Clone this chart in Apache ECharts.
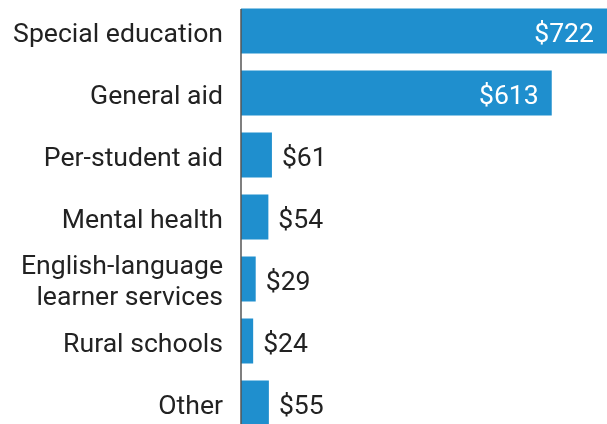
<!DOCTYPE html>
<html>
<head>
<meta charset="utf-8">
<script src="https://cdn.jsdelivr.net/npm/echarts@6/dist/echarts.min.js"></script>
<style>
html,body{margin:0;padding:0;background:#fff;}
#c{width:607px;height:424px;}
</style>
</head>
<body>
<div id="c"></div>
<script>
const categories = ["Special education", "General aid", "Per-student aid", "Mental health", "English-language\nlearner services", "Rural schools", "Other"];
const values = [722, 613, 61, 54, 29, 24, 55];
const insideThreshold = 300;

const chart = echarts.init(document.getElementById('c'), null, {renderer: 'canvas'});
const data = values.map(v => {
  const inside = v > insideThreshold;
  return {
    value: v,
    label: inside
      ? {position: 'insideRight', color: '#ffffff', distance: 13}
      : {position: 'right', color: '#222222', distance: 10}
  };
});
chart.setOption({
  animation: false,
  grid: [
    {left: 241, right: 0, top: 0, height: 434, outerBoundsMode: 'none', containLabel: false},
    {left: 241, right: 0, top: 4, height: 434, outerBoundsMode: 'none', containLabel: false}
  ],
  xAxis: [
    {gridIndex: 0, type: 'value', min: 0, max: 722, show: false},
    {gridIndex: 1, type: 'value', min: 0, max: 722, show: false}
  ],
  yAxis: [
    {
      gridIndex: 0,
      type: 'category',
      data: categories,
      inverse: true,
      axisLine: {show: false},
      axisTick: {show: false},
      axisLabel: {show: false}
    },
    {
      gridIndex: 1,
      type: 'category',
      data: categories,
      inverse: true,
      axisLine: {show: false},
      axisTick: {show: false},
      splitLine: {show: false},
      axisLabel: {
        margin: 18,
        fontFamily: 'Roboto',
        fontSize: 26.6,
        color: '#222222',
        lineHeight: 31,
        align: 'right'
      }
    }
  ],
  series: [{
    type: 'bar',
    xAxisIndex: 0,
    yAxisIndex: 0,
    data: data,
    barWidth: 45,
    itemStyle: {color: '#1f8fce'},
    label: {
      show: true,
      fontFamily: 'Roboto',
      fontSize: 26.6,
      offset: [0, 4],
      formatter: p => '$' + p.value
    },
    markLine: {
      silent: true,
      symbol: 'none',
      label: {show: false},
      lineStyle: {color: '#555555', width: 1.5, type: 'solid'},
      data: [[{xAxis: 0, y: 9}, {xAxis: 0, y: '100%'}]]
    }
  }]
});
</script>
</body>
</html>
